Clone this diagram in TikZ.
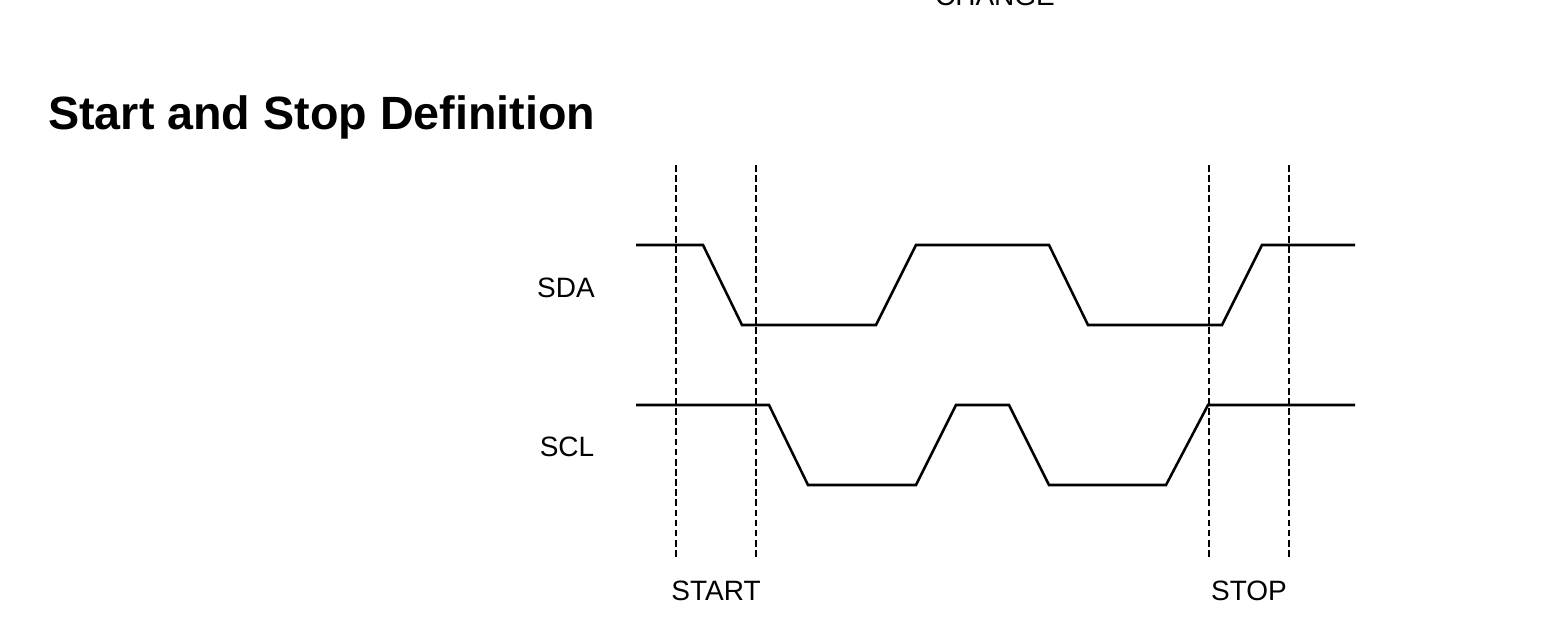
\documentclass[tikz,border=0pt]{standalone}
\usepackage{fontspec}
\setmainfont{Liberation Sans}
\tikzset{
  wave/.style={line width=1.9pt, line join=miter},
  marker/.style={line width=0.8pt, dash pattern=on 5pt off 2.6pt},
  lbl/.style={inner sep=0pt, anchor=base, font=\fontsize{21}{24}\selectfont}
}
\begin{document}
\begin{tikzpicture}[x=0.75pt, y=-0.75pt]
\useasboundingbox (0,0) rectangle (1543,641);

\node[lbl](change) at (995,6){CHANGE};
\node[inner sep=0pt, anchor=base west, font=\fontsize{35}{40}\selectfont\bfseries](title) at (48,130){Start and Stop Definition};

\node[lbl](sda) at (566,298){SDA};
\node[lbl](scl) at (567,457){SCL};

% SDA
\draw[wave](636,245)--(703,245)--(742,325)--(876,325)--(916,245)--(1049,245)--(1088,325)--(1222,325)--(1262,245)--(1355,245);
% SCL
\draw[wave](636,405)--(769,405)--(808,485)--(916,485)--(956,405)--(1009,405)--(1049,485)--(1166,485)--(1208,405)--(1355,405);

\foreach \x in {676,756,1209,1289}
  \draw[marker](\x,165)--(\x,558);

\node[lbl](start) at (716,600){START};
\node[lbl](stop) at (1249,600){STOP};
\end{tikzpicture}
\end{document}
